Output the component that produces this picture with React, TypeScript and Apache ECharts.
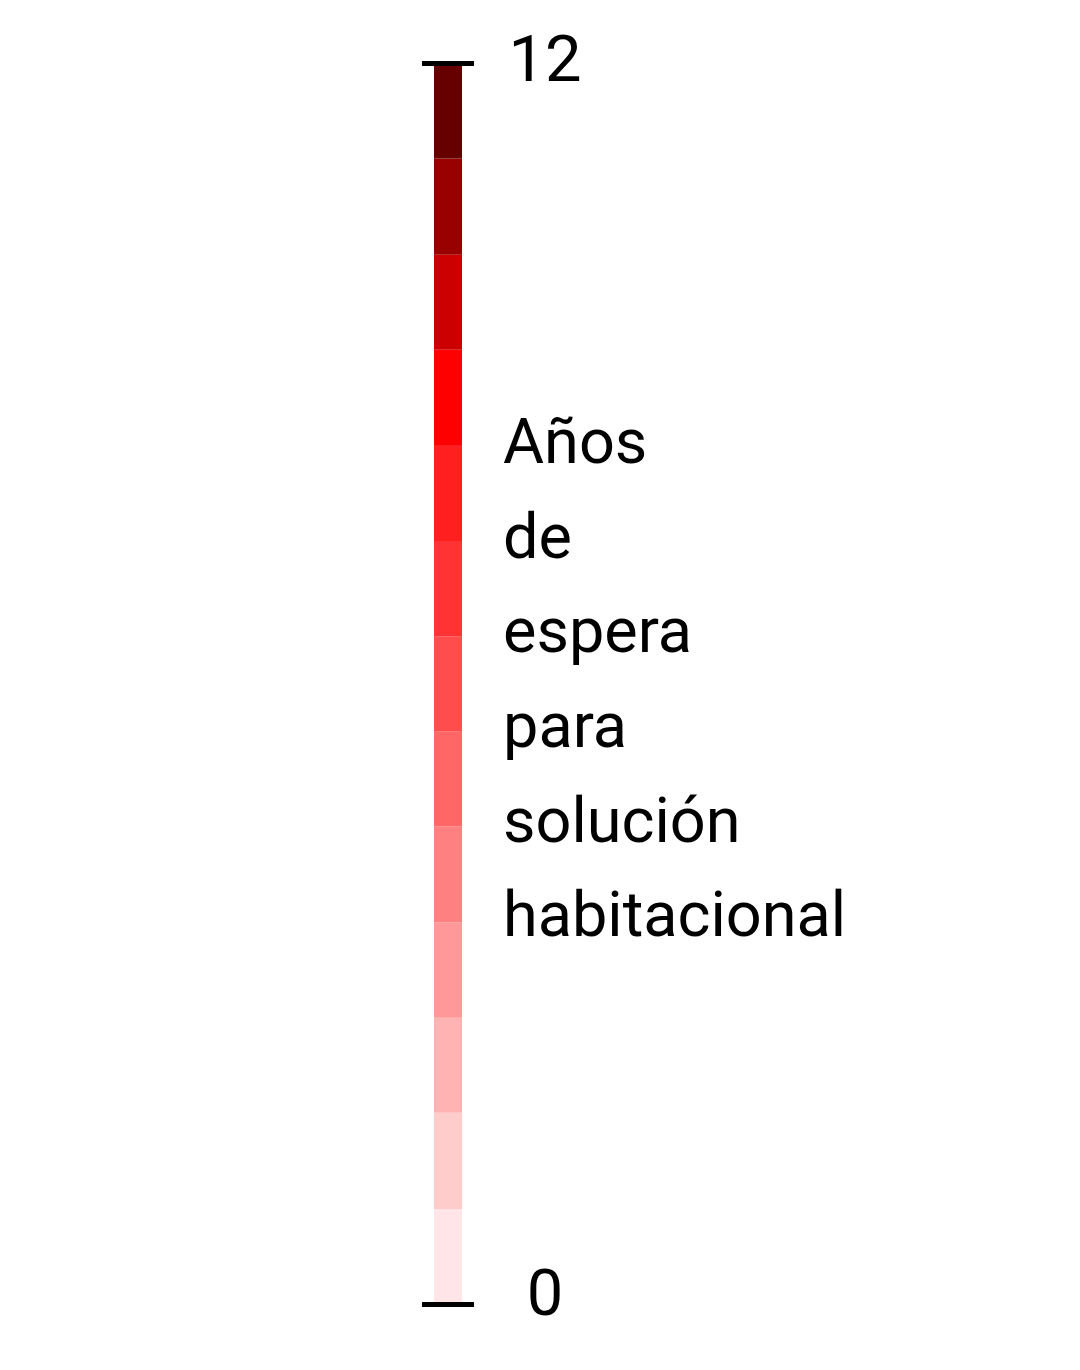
import React, { useEffect, useRef } from "react";
import * as echarts from "echarts";

// Legend scale: waiting years for a housing solution
const scaleMin = 0;
const scaleMax = 12;
const tickValues = [0, 12];
const tickLabels = ["0", "12"];
// 13 colour bins, bottom (0) to top (12)
const binLower = [0, 0.92, 1.85, 2.77, 3.69, 4.62, 5.54, 6.46, 7.38, 8.31, 9.23, 10.15, 11.08];
const binUpper = [0.92, 1.85, 2.77, 3.69, 4.62, 5.54, 6.46, 7.38, 8.31, 9.23, 10.15, 11.08, 12];
const binColors = [
  "#ffe5e7",
  "#ffcccc",
  "#ffb3b3",
  "#ff9999",
  "#ff8080",
  "#ff6666",
  "#ff4d4d",
  "#ff3333",
  "#ff1f1f",
  "#ff0000",
  "#cc0000",
  "#990000",
  "#660000",
];
const titleLines = ["Años", "de", "espera", "para", "solución", "habitacional"];

const FONT = "Roboto, 'Noto Sans', sans-serif";

export default function App() {
  const ref = useRef<HTMLDivElement>(null);
  useEffect(() => {
    if (!ref.current) return;
    const chart = echarts.init(ref.current, null, { renderer: "svg" });
    const data = binLower.map((lo, i) => [0, lo, binUpper[i], i]);
    chart.setOption({
      animation: false,
      backgroundColor: "#ffffff",
      title: {
        text: titleLines.join("\n"),
        left: 503,
        top: 394,
        padding: 0,
        textStyle: {
          fontFamily: FONT,
          fontSize: 63,
          fontWeight: 400,
          color: "#000000",
          lineHeight: 94.7,
        },
      },
      grid: { left: 422, width: 52, top: 63.5, bottom: 66 },
      xAxis: {
        type: "category",
        data: ["legend"],
        show: false,
      },
      yAxis: {
        type: "value",
        position: "right",
        min: scaleMin,
        max: scaleMax,
        interval: 12,
        z: 10,
        axisLine: { show: false },
        axisTick: { show: false },
        splitLine: {
          show: true,
          lineStyle: { color: "#000000", width: 5 },
        },
        axisLabel: {
          show: true,
          margin: 71,
          align: "center",
          verticalAlign: "middle",
          formatter: (v: number) => {
            const idx = tickValues.indexOf(v);
            if (idx < 0) return "";
            return v === scaleMax ? `{hi|${tickLabels[idx]}}` : `{lo|${tickLabels[idx]}}`;
          },
          rich: {
            hi: {
              fontFamily: FONT,
              fontSize: 65,
              color: "#000000",
              padding: [0, 0, 10, 0],
            },
            lo: {
              fontFamily: FONT,
              fontSize: 65,
              color: "#000000",
              padding: [0, 0, 22, 0],
            },
          },
        },
      },
      series: [
        {
          type: "custom",
          data,
          renderItem: (params: any, api: any) => {
            const top = api.coord([0, api.value(2)]);
            const bottom = api.coord([0, api.value(1)]);
            const w = 28;
            return {
              type: "rect",
              shape: {
                x: top[0] - w / 2,
                y: top[1],
                width: w,
                height: bottom[1] - top[1],
              },
              style: { fill: binColors[api.value(3)] },
            };
          },
        },
      ],
    });
    return () => chart.dispose();
  }, []);
  return (
    <div
      ref={ref}
      style={{ position: "absolute", left: 0, top: 0, width: 1080, height: 1370 }}
    />
  );
}
